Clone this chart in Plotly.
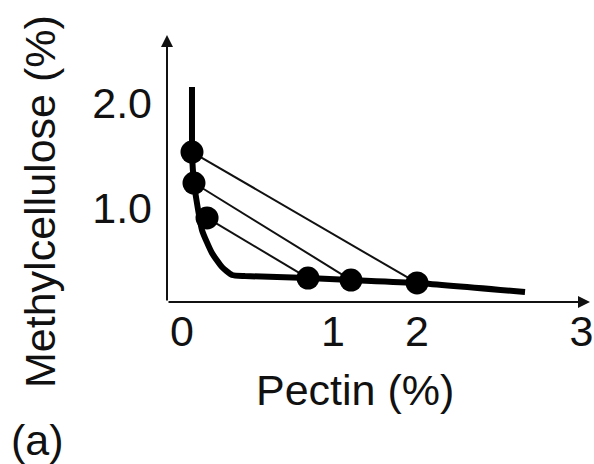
import plotly.graph_objects as go

# Binodal curve (pectin %, methylcellulose %)
binodal_pectin = [0.085, 0.085, 0.085, 0.102, 0.119, 0.170, 0.255, 0.340, 0.426, 0.536, 1.072, 1.438, 2.0, 2.919]
binodal_mc = [2.152, 1.581, 1.533, 1.238, 1.105, 0.790, 0.571, 0.438, 0.362, 0.352, 0.333, 0.314, 0.286, 0.200]

# Tie-line end points: MC-rich phase and pectin-rich phase
mc_rich_pectin = [0.085, 0.102, 0.213]
mc_rich_mc = [1.533, 1.238, 0.905]
pectin_rich_pectin = [2.0, 1.438, 1.072]
pectin_rich_mc = [0.286, 0.314, 0.333]

x_tick_vals = [0, 1.285, 2, 3.40]
x_tick_text = ["0", "1", "2", "3"]
y_tick_vals = [1.0, 2.0]
y_tick_text = ["1.0", "2.0"]

FONT = "Liberation Sans, Arial, Helvetica, sans-serif"
INK = "#111111"

fig = go.Figure()

# tie lines
for i in range(len(mc_rich_pectin)):
    fig.add_trace(go.Scatter(
        x=[mc_rich_pectin[i], pectin_rich_pectin[i]],
        y=[mc_rich_mc[i], pectin_rich_mc[i]],
        mode="lines", line=dict(color=INK, width=2), showlegend=False,
        hoverinfo="skip"))

# binodal
fig.add_trace(go.Scatter(
    x=binodal_pectin, y=binodal_mc, mode="lines",
    line=dict(color="black", width=6, shape="spline", smoothing=0.5),
    showlegend=False))

# dots
fig.add_trace(go.Scatter(
    x=mc_rich_pectin + pectin_rich_pectin,
    y=mc_rich_mc + pectin_rich_mc,
    mode="markers", marker=dict(color="black", size=23),
    showlegend=False))

fig.update_layout(
    width=594, height=464,
    margin=dict(l=167, r=4, t=35, b=162, autoexpand=False),
    paper_bgcolor="white", plot_bgcolor="white",
    font=dict(family=FONT, size=43, color=INK),
    xaxis=dict(range=[-0.1277, 3.472], showgrid=False, zeroline=False,
               showline=False, tickvals=x_tick_vals, ticktext=x_tick_text,
               ticks="", tickfont=dict(size=43, color=INK), ticklabelstandoff=0,
               automargin=False),
    yaxis=dict(range=[0.1048, 2.6476], showgrid=False, zeroline=False,
               showline=False, tickvals=y_tick_vals, ticktext=y_tick_text,
               ticks="", tickfont=dict(size=43, color=INK), ticklabelstandoff=14,
               automargin=False),
)

# axes with arrows
fig.add_annotation(xref="x domain", yref="y domain", axref="x domain", ayref="y domain",
                   x=1, y=0, ax=0, ay=0, text="", showarrow=True,
                   arrowhead=2, arrowsize=1.2, arrowwidth=2, arrowcolor=INK)
fig.add_annotation(xref="x domain", yref="y domain", axref="x domain", ayref="y domain",
                   x=0, y=1, ax=0, ay=0, text="", showarrow=True,
                   arrowhead=2, arrowsize=1.2, arrowwidth=2, arrowcolor=INK)

# titles
fig.add_annotation(xref="paper", yref="paper", x=(355 - 167) / (590 - 167),
                   y=-(390 - 302) / 267, text="Pectin (%)", showarrow=False,
                   font=dict(size=43, color=INK), xanchor="center", yanchor="middle")
fig.add_annotation(xref="paper", yref="paper", x=(40 - 167) / (590 - 167),
                   y=(302 - 202) / 267, text="Methylcellulose (%)", showarrow=False,
                   textangle=-90, font=dict(size=43, color=INK),
                   xanchor="center", yanchor="middle")
fig.add_annotation(xref="paper", yref="paper", x=(37 - 167) / (590 - 167),
                   y=-(440 - 302) / 267, text="(a)", showarrow=False,
                   font=dict(size=43, color=INK), xanchor="center", yanchor="middle")

fig.write_html("out.html", config={"displayModeBar": False},
               post_script="document.body.style.margin='0';document.body.style.overflow='hidden';")
